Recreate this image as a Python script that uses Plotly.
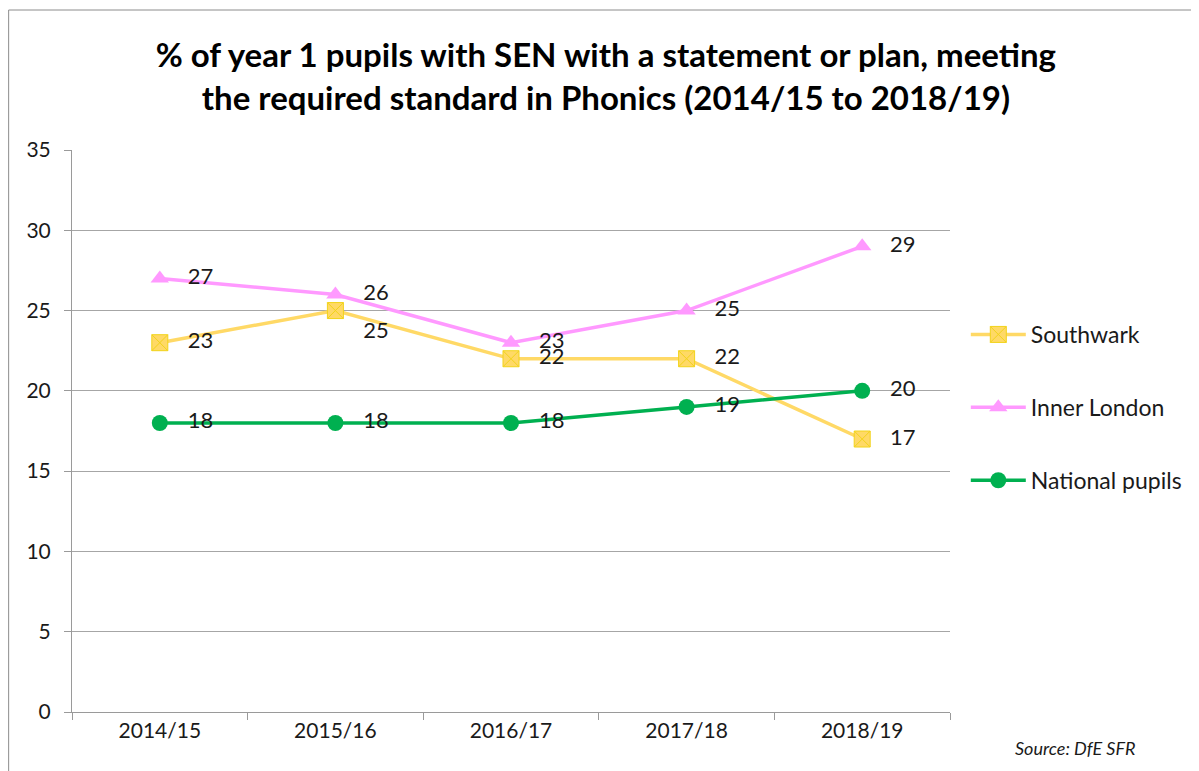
import plotly.graph_objects as go

years = ["2014/15", "2015/16", "2016/17", "2017/18", "2018/19"]
southwark = [23, 25, 22, 22, 17]
inner_london = [27, 26, 23, 25, 29]
national = [18, 18, 18, 19, 20]

FONT = "Lato, Open Sans, sans-serif"
TXT = "#1a1a1a"

W, H = 1191, 763
L, R, T, B = 64, 247, 142, 59
PW, PH = W - L - R, H - T - B


def labels(vals):
    return ["   " + str(v) for v in vals]


fig = go.Figure()

fig.add_trace(go.Scatter(
    x=years, y=southwark, name="Southwark", mode="lines+markers+text",
    text=labels(southwark),
    textposition=["middle right", "bottom right", "middle right", "middle right", "middle right"],
    line=dict(color="#FFD966", width=3.5),
    marker=dict(symbol="square-x", size=16, color="#FFD966", line=dict(color="#F2D31A", width=1)),
    textfont=dict(family=FONT, size=22, color=TXT),
    legendgroup="a",
))
fig.add_trace(go.Scatter(
    x=years, y=inner_london, name="Inner London", mode="lines+markers+text",
    text=labels(inner_london),
    textposition="middle right",
    line=dict(color="#FF99FF", width=3.5),
    marker=dict(symbol="triangle-up", size=16, color="#FF99FF"),
    textfont=dict(family=FONT, size=22, color=TXT),
    legendgroup="b",
))
fig.add_trace(go.Scatter(
    x=years, y=national, name="National pupils", mode="lines+markers+text",
    text=labels(national),
    textposition="middle right",
    line=dict(color="#00B050", width=3.5),
    marker=dict(symbol="circle", size=16, color="#00B050"),
    textfont=dict(family=FONT, size=22, color=TXT),
    legendgroup="c",
))

fig.update_layout(
    width=W, height=H,
    margin=dict(l=L, r=R, t=T, b=B),
    paper_bgcolor="white", plot_bgcolor="white",
    font=dict(family=FONT, size=21, color=TXT),
    title=dict(
        text="<b>% of year 1 pupils with SEN with a statement or plan, meeting<br>the required standard in Phonics (2014/15 to 2018/19)</b>",
        x=0.502, xanchor="center", y=0.923, yanchor="middle",
        font=dict(family=FONT, size=33, color="#000000"),
    ),
    showlegend=True,
    legend=dict(
        x=1.018, xanchor="left", y=0.71, yanchor="top",
        font=dict(family=FONT, size=23, color=TXT),
        tracegroupgap=40, traceorder="grouped",
        bgcolor="rgba(0,0,0,0)",
        itemwidth=55,
    ),
    xaxis=dict(
        type="category", showgrid=False,
        showline=True, linecolor="#9a9a9a", linewidth=1,
        ticks="outside", tickson="boundaries", ticklen=7, tickcolor="#9a9a9a",
        tickfont=dict(family=FONT, size=21, color=TXT),
        range=[-0.5, 4.5],
    ),
    yaxis=dict(
        range=[0, 35], dtick=5, showgrid=True, gridcolor="#a6a6a6", gridwidth=1,
        showline=True, linecolor="#9a9a9a", linewidth=1,
        ticks="outside", ticklen=7, tickcolor="#9a9a9a",
        ticklabelstandoff=9,
        tickfont=dict(family=FONT, size=21, color=TXT),
        zeroline=False,
    ),
    annotations=[dict(
        text="<i>Source: DfE SFR</i>", xref="paper", yref="paper",
        x=(1070 - L) / PW, y=-36 / PH, xanchor="center", yanchor="middle", showarrow=False,
        font=dict(family=FONT, size=18, color=TXT),
    )],
    shapes=[dict(
        type="rect", xref="paper", yref="paper",
        x0=(0.5 - L) / PW, x1=(W + 20 - L) / PW, y0=-(B + 20) / PH, y1=(PH + T - 2) / PH,
        line=dict(color="#8c8c8c", width=1), fillcolor="rgba(0,0,0,0)", layer="below",
    )],
)

fig.write_html("out.html")
